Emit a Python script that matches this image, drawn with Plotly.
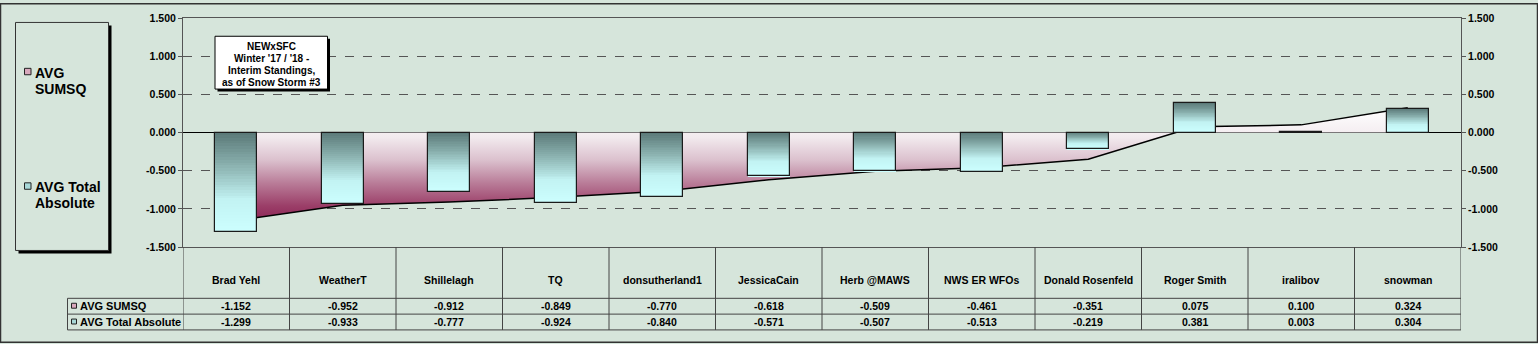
import plotly.graph_objects as go

# ---------------- data ----------------
categories = ["Brad Yehl", "WeatherT", "Shillelagh", "TQ", "donsutherland1", "JessicaCain",
              "Herb @MAWS", "NWS ER WFOs", "Donald Rosenfeld", "Roger Smith", "iralibov", "snowman"]
avg_sumsq = [-1.152, -0.952, -0.912, -0.849, -0.770, -0.618, -0.509, -0.461, -0.351, 0.075, 0.100, 0.324]
avg_total_abs = [-1.299, -0.933, -0.777, -0.924, -0.840, -0.571, -0.507, -0.513, -0.219, 0.381, 0.003, 0.304]
series_names = ["AVG SUMSQ", "AVG Total Absolute"]
legend_lines = [["AVG", "SUMSQ"], ["AVG Total", "Absolute"]]
y_ticks = [-1.5, -1.0, -0.5, 0.0, 0.5, 1.0, 1.5]
title_lines = ["NEWxSFC", "Winter '17 / '18 -", "Interim Standings,", "as of Snow Storm #3"]

# ---------------- geometry / style ----------------
W, H = 1538, 344
L, R, T, B = 183, 1461, 15, 247
BG = "#d6e5db"
FONT = "Arial, Liberation Sans, sans-serif"
BAR_STOPS = [(0.0, (0x5a, 0x78, 0x77)), (0.35, (0x8d, 0xb4, 0xb2)),
             (0.68, (0xc2, 0xf3, 0xf3)), (1.0, (0xcc, 0xff, 0xff))]
NSEG = 36
BAR_W = 0.39


def fx(px):
    return (px - L) / (R - L)


def fy(py):
    return (B - py) / (B - T)


def grad(t):
    for (t0, c0), (t1, c1) in zip(BAR_STOPS[:-1], BAR_STOPS[1:]):
        if t <= t1:
            u = (t - t0) / (t1 - t0)
            return "rgb(%d,%d,%d)" % tuple(round(a + (b - a) * u) for a, b in zip(c0, c1))
    return "rgb(%d,%d,%d)" % BAR_STOPS[-1][1]


idx = list(range(len(categories)))
fig = go.Figure()

# area series (AVG SUMSQ) on base axis (drawn underneath)
fig.add_trace(go.Scatter(
    x=idx, y=avg_sumsq, mode="lines", name=series_names[0], yaxis="y",
    line=dict(color="black", width=1.5),
    fill="tozeroy",
    fillgradient=dict(type="vertical",
                      colorscale=[[0, "#8a2254"], [0.15, "#9b3e68"], [0.35, "#b97c98"],
                                  [0.55, "#dbc0cd"], [0.75, "#f2eaee"], [1, "#ffffff"]],
                      start=min(avg_sumsq), stop=max(avg_sumsq)),
    hoverinfo="skip", showlegend=False))

# bars (AVG Total Absolute) on overlaying axis (drawn on top), vertical gradient from segments
tops = [max(0, v) for v in avg_total_abs]
bots = [min(0, v) for v in avg_total_abs]
for k in range(NSEG):
    t = (k + 0.5) / NSEG
    bases = [tp - (tp - bt) * (k + 1) / NSEG for tp, bt in zip(tops, bots)]
    hs = [(tp - bt) / NSEG * 1.05 for tp, bt in zip(tops, bots)]
    fig.add_trace(go.Bar(x=idx, y=hs, base=bases, width=BAR_W, yaxis="y2",
                         marker=dict(color=grad(t), line=dict(width=0)),
                         hoverinfo="skip", showlegend=False))
fig.add_trace(go.Bar(x=idx, y=avg_total_abs, width=BAR_W, name=series_names[1], yaxis="y2",
                     marker=dict(color="rgba(0,0,0,0)", line=dict(color="#1a1a1a", width=1.2)),
                     showlegend=False))

tick_text = ["%.3f" % v for v in y_ticks]
axis_common = dict(range=[-1.5, 1.5], tickmode="array", tickvals=y_ticks, ticktext=tick_text,
                   ticks="outside", ticklen=4, tickcolor="#555", showline=True, linecolor="#555",
                   tickfont=dict(family=FONT, size=10.5, color="black", weight="bold"))

fig.update_layout(
    width=W, height=H,
    margin=dict(l=L, r=W - R, t=T, b=H - B),
    paper_bgcolor=BG, plot_bgcolor=BG,
    barmode="overlay", bargap=0,
    xaxis=dict(range=[-0.5, len(categories) - 0.5], showticklabels=False, showgrid=False,
               zeroline=False, showline=True, mirror=True, linecolor="#555", ticks=""),
    yaxis=dict(**axis_common, showgrid=True, gridcolor="#555", griddash="dash", gridwidth=1,
               zeroline=True, zerolinecolor="black", zerolinewidth=1),
    yaxis2=dict(**axis_common, overlaying="y", side="right", showgrid=False, zeroline=False),
    showlegend=False,
)

shapes = []
ann = []

# outer border
shapes.append(dict(type="rect", xref="paper", yref="paper", x0=fx(0.5), x1=fx(W - 0.5),
                   y0=fy(0.5), y1=fy(H - 0.5), line=dict(color="#333", width=1.5), layer="above"))

# table grid
for k in range(len(categories) + 1):
    shapes.append(dict(type="line", xref="x", yref="paper", x0=k - 0.5, x1=k - 0.5,
                       y0=fy(B), y1=fy(331), line=dict(color="#444", width=1)))
for py in (299, 315, 331):
    shapes.append(dict(type="line", xref="paper", yref="paper", x0=fx(67.5), x1=1,
                       y0=fy(py), y1=fy(py), line=dict(color="#444", width=1)))
shapes.append(dict(type="line", xref="paper", yref="paper", x0=fx(67.5), x1=fx(67.5),
                   y0=fy(299), y1=fy(331), line=dict(color="#444", width=1)))

# legend box
shapes.append(dict(type="rect", xref="paper", yref="paper", x0=fx(18.5), x1=fx(111.5),
                   y0=fy(22.5), y1=fy(253.5), fillcolor="black", line=dict(width=0)))
shapes.append(dict(type="rect", xref="paper", yref="paper", x0=fx(15.5), x1=fx(108.5),
                   y0=fy(19.5), y1=fy(250.5), fillcolor=BG, line=dict(color="#333", width=1)))

swatch = ["#d8a8bc", "#a8d8d8"]
for i, (sy, lines) in enumerate(zip((69.5, 185.5), legend_lines)):
    shapes.append(dict(type="rect", xref="paper", yref="paper", x0=fx(24.5), x1=fx(31),
                       y0=fy(sy - 3.5), y1=fy(sy + 3), fillcolor=swatch[i], line=dict(color="#222", width=1)))
    for j, txt in enumerate(lines):
        ann.append(dict(xref="paper", yref="paper", x=fx(33), y=fy(sy + 1 + 16 * j), text=txt,
                        xanchor="left", yanchor="middle", showarrow=False,
                        font=dict(family=FONT, size=14, color="black", weight="bold")))

# table row headers
for i, (sy, name) in enumerate(zip((307, 323), series_names)):
    shapes.append(dict(type="rect", xref="paper", yref="paper", x0=fx(71.5), x1=fx(76.5),
                       y0=fy(sy - 3), y1=fy(sy + 2), fillcolor=swatch[i], line=dict(color="#222", width=1)))
    ann.append(dict(xref="paper", yref="paper", x=fx(77.5), y=fy(sy), text=name,
                    xanchor="left", yanchor="middle", showarrow=False,
                    font=dict(family=FONT, size=11, color="black", weight="bold")))

# category names and table values
for i, c in enumerate(categories):
    ann.append(dict(xref="x", yref="paper", x=i, y=fy(280), text=c, showarrow=False,
                    xanchor="center", yanchor="middle",
                    font=dict(family=FONT, size=10.5, color="black", weight="bold")))
    for sy, vals in ((307, avg_sumsq), (323, avg_total_abs)):
        ann.append(dict(xref="x", yref="paper", x=i, y=fy(sy), text="%.3f" % vals[i], showarrow=False,
                        xanchor="center", yanchor="middle",
                        font=dict(family=FONT, size=10.5, color="black", weight="bold")))

# title box
shapes.append(dict(type="rect", xref="paper", yref="paper", x0=fx(217.5), x1=fx(330),
                   y0=fy(36), y1=fy(89.5), fillcolor="black", line=dict(width=0), layer="above"))
shapes.append(dict(type="rect", xref="paper", yref="paper", x0=fx(215), x1=fx(327.5),
                   y0=fy(33.5), y1=fy(87), fillcolor="white", line=dict(color="black", width=1), layer="above"))
for j, (txt, sy) in enumerate(zip(title_lines, (43, 55.5, 67.5, 79.5))):
    ann.append(dict(xref="paper", yref="paper", x=fx(271.5), y=fy(sy + 0.5), text=txt, showarrow=False,
                    xanchor="center", yanchor="middle",
                    font=dict(family=FONT, size=10, color="black", weight="bold")))

fig.update_layout(shapes=shapes, annotations=ann)
fig.write_html("out.html")
